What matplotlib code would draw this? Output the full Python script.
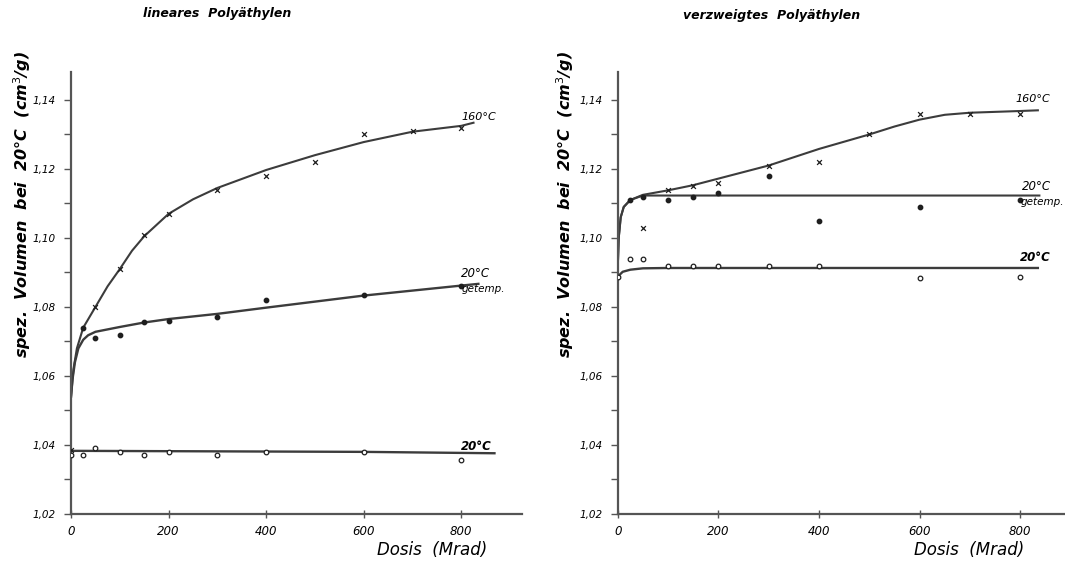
import matplotlib
matplotlib.use("Agg")
import matplotlib.pyplot as plt
from matplotlib.ticker import MultipleLocator, FuncFormatter

# ---------------- data: lineares Polyäthylen ----------------
lin_dose_160 = [0, 50, 100, 150, 200, 300, 400, 500, 600, 700, 800]
lin_vol_160 = [1.0385, 1.080, 1.091, 1.101, 1.107, 1.114, 1.118, 1.122, 1.130, 1.131, 1.132]
lin_dose_get = [25, 50, 100, 150, 200, 300, 400, 600, 800]
lin_vol_get = [1.074, 1.071, 1.072, 1.0755, 1.076, 1.077, 1.082, 1.0835, 1.086]
lin_dose_20 = [0, 25, 50, 100, 150, 200, 300, 400, 600, 800]
lin_vol_20 = [1.037, 1.037, 1.039, 1.038, 1.037, 1.038, 1.037, 1.038, 1.038, 1.0355]

lin_fit160_x = [0, 5, 12, 25, 50, 75, 100, 125, 150, 200, 250, 300, 400, 500, 600, 700, 800, 825]
lin_fit160_y = [1.054, 1.062, 1.068, 1.074, 1.080, 1.0860, 1.091, 1.0963, 1.1005, 1.107, 1.1112, 1.1145,
                1.1197, 1.124, 1.1278, 1.1308, 1.1325, 1.1334]
lin_fitget_x = [0, 3, 8, 15, 25, 35, 50, 100, 150, 200, 300, 400, 600, 800, 835]
lin_fitget_y = [1.054, 1.059, 1.064, 1.068, 1.0705, 1.0718, 1.0728, 1.0742, 1.0755, 1.0765, 1.078,
                1.0798, 1.0833, 1.0862, 1.0867]
lin_fit20_x = [0, 600, 868]
lin_fit20_y = [1.0383, 1.0380, 1.0376]

# ---------------- data: verzweigtes Polyäthylen ----------------
br_dose_160 = [50, 100, 150, 200, 300, 400, 500, 600, 700, 800]
br_vol_160 = [1.103, 1.114, 1.115, 1.116, 1.121, 1.122, 1.130, 1.136, 1.136, 1.136]
br_dose_get = [25, 50, 100, 150, 200, 300, 400, 600, 800]
br_vol_get = [1.111, 1.112, 1.111, 1.112, 1.113, 1.118, 1.105, 1.109, 1.111]
br_dose_20 = [0, 25, 50, 100, 150, 200, 300, 400, 600, 800]
br_vol_20 = [1.0888, 1.094, 1.094, 1.092, 1.092, 1.092, 1.092, 1.092, 1.0885, 1.0887]

br_fit160_x = [0, 2, 6, 12, 25, 50, 100, 150, 200, 300, 400, 500, 550, 600, 650, 700, 800, 835]
br_fit160_y = [1.091, 1.100, 1.106, 1.109, 1.111, 1.1125, 1.1138, 1.1153, 1.1172, 1.121, 1.1258, 1.130,
               1.1323, 1.1343, 1.1357, 1.1363, 1.1368, 1.1370]
br_fitget_x = [0, 2, 6, 12, 25, 50, 800, 838]
br_fitget_y = [1.091, 1.100, 1.106, 1.109, 1.111, 1.1123, 1.1123, 1.1123]
br_fit20_x = [0, 10, 25, 50, 100, 800, 835]
br_fit20_y = [1.0888, 1.0902, 1.0908, 1.0912, 1.0913, 1.0913, 1.0913]

titles = ["lineares  Polyäthylen", "verzweigtes  Polyäthylen"]
ylabel = "spez.  Volumen  bei  20°C  (cm$^3$/g)"
xlabel = "Dosis  (Mrad)"
xticks = [0, 200, 400, 600, 800]
yticks = [1.02, 1.04, 1.06, 1.08, 1.10, 1.12, 1.14]

LINE = "#3c3c3c"
MARK = "#1e1e1e"
AX = "#555555"

fig = plt.figure(figsize=(10.65, 5.64), dpi=100)
ax1 = fig.add_axes([0.0667, 0.0887, 0.4237, 0.783])
ax2 = fig.add_axes([0.580, 0.0887, 0.4205, 0.783])


def style(ax, xmax):
    ax.set_xlim(0, xmax)
    ax.set_ylim(1.02, 1.148)
    for s in ["top", "right"]:
        ax.spines[s].set_visible(False)
    for s in ["left", "bottom"]:
        ax.spines[s].set_color(AX)
        ax.spines[s].set_linewidth(1.6)
    ax.set_xticks(xticks)
    ax.set_yticks(yticks)
    ax.yaxis.set_minor_locator(MultipleLocator(0.01))
    ax.yaxis.set_major_formatter(FuncFormatter(lambda v, p: f"{v:.2f}".replace(".", ",")))
    ax.tick_params(axis="y", which="both", direction="out", length=5, width=1.0,
                   color=AX, labelsize=7.5, pad=6)
    ax.tick_params(axis="x", which="major", direction="inout", length=6, width=1.0,
                   color=AX, labelsize=8.5, pad=5)
    for lab in ax.get_xticklabels() + ax.get_yticklabels():
        lab.set_fontstyle("italic")
    ax.set_facecolor("none")


style(ax1, 925)
style(ax2, 890)

# left panel
ax1.plot(lin_fit160_x, lin_fit160_y, color=LINE, lw=1.5, zorder=2)
ax1.plot(lin_fitget_x, lin_fitget_y, color=LINE, lw=1.7, zorder=2)
ax1.plot(lin_fit20_x, lin_fit20_y, color=LINE, lw=1.7, zorder=2)
ax1.scatter(lin_dose_160, lin_vol_160, marker="x", s=12, color=MARK, linewidths=0.9, zorder=3)
ax1.scatter(lin_dose_get, lin_vol_get, marker="o", s=10, color=MARK, zorder=3)
ax1.scatter(lin_dose_20, lin_vol_20, marker="o", s=11, facecolors="white",
            edgecolors=MARK, linewidths=0.9, zorder=3)
ax1.text(800, 1.1352, "160°C", fontsize=8, style="italic", va="center", ha="left")
ax1.text(800, 1.0897, "20°C", fontsize=8.5, style="italic", va="center", ha="left")
ax1.text(800, 1.0852, "getemp.", fontsize=7.5, style="italic", va="center", ha="left")
ax1.text(800, 1.0395, "20°C", fontsize=8.5, style="italic", weight="bold", va="center", ha="left")

# right panel
ax2.plot(br_fit160_x, br_fit160_y, color=LINE, lw=1.5, zorder=2)
ax2.plot(br_fitget_x, br_fitget_y, color=LINE, lw=1.5, zorder=2)
ax2.plot(br_fit20_x, br_fit20_y, color=LINE, lw=1.7, zorder=2)
ax2.scatter(br_dose_160, br_vol_160, marker="x", s=12, color=MARK, linewidths=0.9, zorder=3)
ax2.scatter(br_dose_get, br_vol_get, marker="o", s=10, color=MARK, zorder=3)
ax2.scatter(br_dose_20, br_vol_20, marker="o", s=11, facecolors="white",
            edgecolors=MARK, linewidths=0.9, zorder=3)
ax2.text(790, 1.1403, "160°C", fontsize=8, style="italic", va="center", ha="left")
ax2.text(803, 1.1148, "20°C", fontsize=8.5, style="italic", va="center", ha="left")
ax2.text(800, 1.1105, "getemp.", fontsize=7.5, style="italic", va="center", ha="left")
ax2.text(800, 1.0942, "20°C", fontsize=8.5, style="italic", weight="bold", va="center", ha="left")

# axis labels
ax1.text(-0.109, 0.70, ylabel, transform=ax1.transAxes, rotation=90, fontsize=11.5,
         style="italic", weight="bold", ha="center", va="center")
ax2.text(-0.118, 0.70, ylabel, transform=ax2.transAxes, rotation=90, fontsize=11.5,
         style="italic", weight="bold", ha="center", va="center")
fig.text(432 / 1065, 0.024, xlabel, fontsize=12, style="italic", ha="center", va="center")
fig.text(969 / 1065, 0.024, xlabel, fontsize=12, style="italic", ha="center", va="center")

# titles
fig.text(217 / 1065, 1 - 13 / 564, titles[0], fontsize=9, style="italic", weight="semibold",
         ha="center", va="center")
fig.text(772 / 1065, 1 - 15 / 564, titles[1], fontsize=9, style="italic", weight="semibold",
         ha="center", va="center")

fig.savefig("out.png", dpi=100, facecolor="white")
